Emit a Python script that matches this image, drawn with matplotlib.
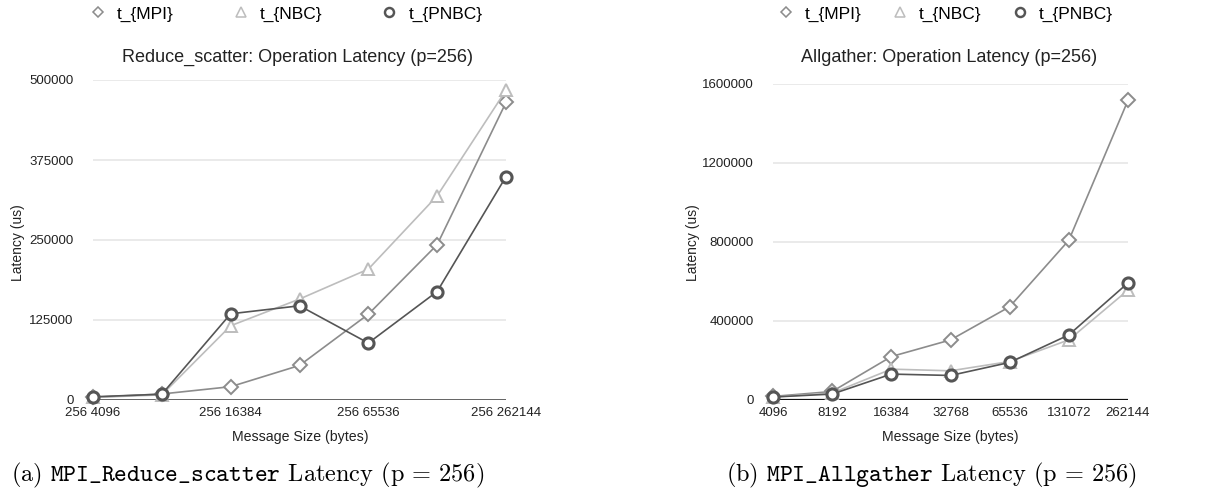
import matplotlib
matplotlib.use("Agg")
import matplotlib.pyplot as plt
from matplotlib.lines import Line2D

plt.rcParams["font.family"] = ["Liberation Sans", "DejaVu Sans"]
plt.rcParams["mathtext.fontset"] = "cm"

# ---- data -------------------------------------------------------------
rs_sizes = ["256 4096", "256 8192", "256 16384", "256 32768",
            "256 65536", "256 131072", "256 262144"]
rs_mpi = [4200, 9400, 20800, 54000, 134000, 242700, 465000]
rs_nbc = [4000, 8000, 116000, 157700, 204500, 319000, 484000]
rs_pnbc = [5000, 9000, 134700, 147200, 89000, 169500, 349000]
rs_yticks = [0, 125000, 250000, 375000, 500000]

ag_sizes = ["4096", "8192", "16384", "32768", "65536", "131072", "262144"]
ag_mpi = [18000, 43000, 219600, 303700, 471500, 807500, 1515000]
ag_nbc = [15000, 35000, 156000, 147600, 194500, 304000, 555700]
ag_pnbc = [15000, 30000, 131000, 124000, 190000, 329000, 592000]
ag_yticks = [0, 400000, 800000, 1200000, 1600000]

series_names = ["t_{MPI}", "t_{NBC}", "t_{PNBC}"]

# ---- styles -----------------------------------------------------------
styles = [
    dict(color="#8c8c8c", marker="D", ms=7, mew=1.4, lw=1.2),
    dict(color="#bdbdbd", marker="^", ms=8, mew=1.4, lw=1.2),
    dict(color="#555555", marker="o", ms=8, mew=2.2, lw=1.2),
]
TXT = "#222222"

W, H = 1221, 497
fig = plt.figure(figsize=(W / 100, H / 100), dpi=100)


def fx(px):
    return px / W


def fy(py):
    return 1 - py / H


def draw_panel(rect, cats, series, yticks, ymax, tick_every, base_color, base_lw):
    ax = fig.add_axes(rect)
    xs = list(range(len(cats)))
    for vals, st in zip(series, styles):
        ax.plot(xs, vals, color=st["color"], lw=st["lw"], marker=st["marker"],
                ms=st["ms"], mfc="white", mec=st["color"], mew=st["mew"],
                clip_on=False, zorder=3)
    ax.set_xlim(0, len(cats) - 1)
    ax.set_ylim(0, ymax)
    for sp in ax.spines.values():
        sp.set_visible(False)
    for t in yticks[1:]:
        ax.axhline(t, color="#e4e4e4", lw=1.1, zorder=1)
    ax.axhline(0, color=base_color, lw=base_lw, zorder=2)
    ax.set_yticks(yticks)
    ax.set_yticklabels([str(t) for t in yticks], fontsize=9.5, color=TXT)
    ticks = xs[::tick_every]
    ax.set_xticks(ticks)
    ax.set_xticklabels([cats[i] for i in ticks], fontsize=9.5, color=TXT)
    ax.tick_params(axis="both", length=0)
    ax.tick_params(axis="y", pad=14)
    ax.tick_params(axis="x", pad=5)
    return ax


ax1 = draw_panel([fx(93), fy(400), fx(506 - 93), (400 - 80) / H],
                 rs_sizes, [rs_mpi, rs_nbc, rs_pnbc], rs_yticks, 500000, 2,
                 "#555555", 2.0)
ax2 = draw_panel([fx(773), fy(400), fx(1128 - 773), (400 - 83.5) / H],
                 ag_sizes, [ag_mpi, ag_nbc, ag_pnbc], ag_yticks, 1600000, 1,
                 "#111111", 1.6)

# axis labels
for x in (300, 950):
    fig.text(fx(x), fy(437), "Message Size (bytes)", ha="center", va="center",
             fontsize=10.2, color=TXT)
fig.text(fx(18), fy(243), "Latency (us)", rotation=90, ha="center",
         va="center", fontsize=10, color=TXT)
fig.text(fx(693), fy(243), "Latency (us)", rotation=90, ha="center",
         va="center", fontsize=10, color=TXT)

# titles
fig.text(fx(298), fy(57), "Reduce_scatter: Operation Latency (p=256)",
         ha="center", va="center", fontsize=13, color=TXT)
fig.text(fx(949), fy(57), "Allgather: Operation Latency (p=256)",
         ha="center", va="center", fontsize=13, color=TXT)

# legends
handles = [Line2D([], [], ls="none", marker=st["marker"], ms=st["ms"] - 1.5,
                  mfc="white", mec=st["color"], mew=st["mew"] * 0.8)
           for st in styles]
fig.legend(handles, series_names, loc="center", ncol=3,
           bbox_to_anchor=(fx(286), fy(14)), frameon=False, fontsize=12.5,
           handlelength=1.0, handletextpad=0.6, columnspacing=3.35)
fig.legend(handles, series_names, loc="center", ncol=3,
           bbox_to_anchor=(fx(945), fy(14)), frameon=False, fontsize=12.5,
           handlelength=1.0, handletextpad=0.6, columnspacing=1.7)

# sub-figure captions
fig.text(fx(248), fy(475),
         r"(a) $\mathtt{MPI\_Reduce\_scatter}$ Latency (p = 256)",
         ha="center", va="center", fontsize=17.5, family="cmr10")
fig.text(fx(931), fy(475),
         r"(b) $\mathtt{MPI\_Allgather}$ Latency (p = 256)",
         ha="center", va="center", fontsize=17.5, family="cmr10")

fig.savefig("out.png", dpi=100, facecolor="white")
